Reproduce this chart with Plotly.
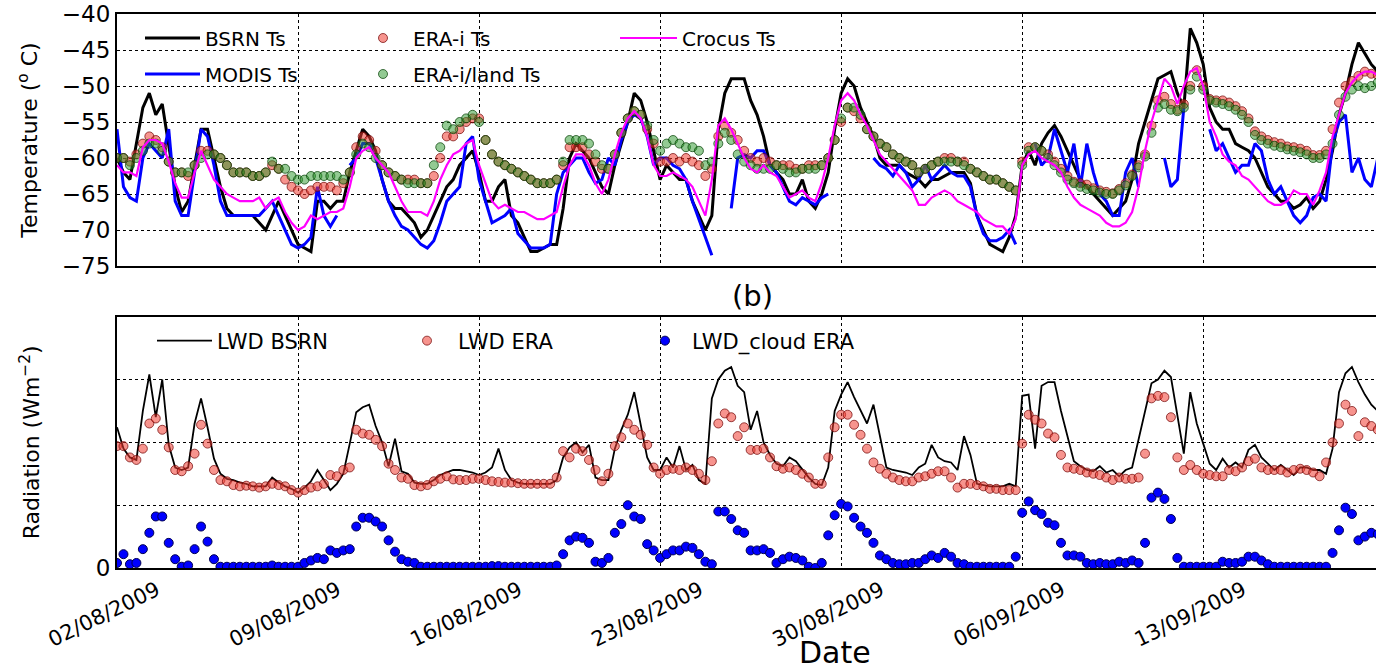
import pandas as pd
import plotly.graph_objects as go

# ---------------- data (6-hourly, starting 02/08/2009 00:00) ----------------
START = "2009-08-02 00:00"
N_STEPS = 196

BSRN_TS = [
    -60, -62, -63, -58,   -53, -51, -54, -52.5,   -58, -64, -67.5, -66,
    -61, -56, -56, -60,   -64, -67, -68, -68,     -68, -68, -69, -70,
    -68, -66, -68, -70,   -72, -72.5, -73, -66,   -66, -67, -66, -66,
    -62, -59, -56, -57,   -59, -63, -66, -67,     -67, -68, -69, -71,
    -70, -68, -66, -64,   -63, -61, -60, -59,     -62, -66, -66, -64,
    -63, -68, -69, -71,   -73, -73, -72.5, -72,   -72, -67, -60, -58,
    -59, -60, -62, -64,   -65, -61, -58, -55,     -51, -52, -55, -59,
    -63, -61, -62, -63,   -63, -66, -68, -70,     -68, -56, -51, -49,
    -49, -49, -52, -54,   -57, -61, -62, -63,     -65, -65, -63, -66,
    -67, -65, -62, -56,   -51, -49, -50, -53,     -55, -57, -60, -61,
    -61, -61, -62, -62.5, -63, -64, -63, -63,     -62.5, -62, -62, -62,
    -63.5, -68, -70, -72, -72.5, -73, -71, -68,   -61, -59, -61, -58,
    -56.5, -55.5, -57, -59, -61, -63, -64, -65,   -66, -67, -68, -67,
    -66, -63, -58, -55,   -52, -49, -48.5, -48,   -51, -53, -42, -44,
    -47, -53, -55, -56,   -56, -58, -58.5, -59,   -60, -62, -64, -65,
    -66, -66, -67, -66.5, -65.5, -67, -66, -63,   -59, -54, -51, -47,
    -44, -45.5, -47, -48,
]

MODIS_TS = [
    -56, -64, -65.5, -66, -60, -58, -59, -60,     -56, -66, -68, -68,
    -62, -56, -57, -61,   -66, -68, -68, -68,     -68, -68, -68, -67,
    -66, -68, -70, -72,   -72.5, -72, -71, -64,   -68, -69.5, -68, None,
    -61, -60, -58, -58,   -60, -63, -66, -68,     -69.5, -70, -71, -72,
    -72.5, -71.5, -69, -66, -65, -64, -58, -57,   -63, -66, -69, -68.5,
    -68, -67, -70.5, -71.5, -72.5, -72.5, -72.5, -72, -65, -62, -61, -60,
    -60, -62, -63.5, -63, -60, -61, -57.5, -55,   -54, -54.5, -57, -61,
    -60, -60, -61, -61.5, -63, -66, -68.5, -71,   -73.5, None, None, -67,
    -60, -59.5, -60, -59, -59, -61, -62, -64,     -66, -66.5, -65.5, -66,
    -66.5, -65.5, -65, None, None, None, None, None, None, -60, -61, -61.5,
    -62.5, -61, -62, -64, -63, -61, -63, -62,     -61, -62, -62.5, -62.5,
    -64, -68, -70.5, -71.5, -71.5, -71, -70, -72, None, None, -58, -61,
    -60, -56, -59, -62,   -58, -64, -58, -62,     -65, -66, -68, -68,
    -62, -60, -64, None,  None, None, -60, -64,   -63, -53, None, None,
    None, -56, -59, -58,  -60, -62, -61, -61,     -58, -59, -63, -65,
    -64, -66, -68, -69,   -68, -65.5, -65, -66,   -58, -55, -54, -62,
    -60, -63, -64, -60,
]

ERA_TS = [
    -60, -60, -60.5, -59.5, -58, -57, -57.5, -58.5, -60.5, -62, -62, -62.5,
    -61, -59, -59, -59.5, -60, -61, -62, -62,     -62, -62.5, -62.5, -62,
    -61, -61.5, -63, -64, -64.5, -65, -64.5, -64, -64, -64, -64.5, -63.5,
    -62, -58.5, -57, -57.5, -59, -61, -62, -62.5, -63, -63, -63, -63.5,
    -63.5, -62.5, -60, -57, -57, -56, -55, -54.5, -54.5, -57.5, -59.5, -60.5,
    -61, -61.5, -62, -62.5, -63, -63.5, -63.5, -63.5, -63, -61, -58.5, -58.5,
    -58.5, -59.5, -60.5, -61.5, -61.5, -59.5, -56.5, -54.5, -53.5, -54, -56, -58,
    -60.5, -60.5, -60, -60.5, -60, -60.5, -61, -62.5, -61.5, -57, -55.5, -56.5,
    -57.5, -59, -60, -60.5, -60, -60.5, -61, -61, -61, -61.5, -61.5, -61,
    -61, -61, -60, -57.5, -55, -53, -53.5, -54.5, -56, -57, -58, -58.5,
    -59.5, -60, -60.5, -61, -62, -61.5, -61, -60.5, -60, -60, -60.5, -60.5,
    -61.5, -62, -62.5, -63, -63, -63.5, -64, -64.5, -60.5, -58.5, -58.5, -59,
    -59.5, -60.5, -61.5, -62.5, -63.3, -63.5, -63.7, -64.2, -64.5, -64.7, -64.9, -64.3,
    -63.5, -62.3, -61, -59.5, -55.5, -52, -51.5, -52.5, -53.3, -52.5, -50, -47.8,
    -50, -51.8, -52, -52, -52.3, -52.8, -53.5, -54.5, -56.3, -57, -57.5, -57.8,
    -58, -58.4, -58.5, -58.7, -59, -59.6, -59.6, -59, -56, -52.3, -50, -49.3,
    -48.6, -48, -48.3, -48.5,
]

ERA_LAND_TS = [
    -60, -60, -61, -60,   -59, -58, -58, -59,     -60.5, -62, -62, -62,
    -61, -60, -59.5, -59.5, -60, -61, -62, -62,   -62, -62.5, -62.5, -62,
    -60.5, -61.5, -61.5, -62.5, -63, -63, -62.5, -62.5, -62.5, -62.5, -62.5, -63,
    -62, -59.5, -58, -58.5, -60, -61, -62, -62.5, -63, -63.5, -63.5, -63.5,
    -63.5, -61, -58.5, -55.5, -56, -55, -54.5, -54, -55, -57.5, -59.5, -60.5,
    -61, -61.5, -62, -62.5, -63, -63.5, -63.5, -63.5, -63, -60.5, -57.5, -57.5,
    -57.5, -58, -59.5, -61, -61.5, -59.5, -56.5, -54.5, -53.5, -54, -55.5, -57.5,
    -59, -58, -57.5, -58, -58.5, -58.5, -59, -61, -60.5, -58, -56.5, -57.5,
    -59.5, -60.5, -61, -61.5, -61.5, -61.5, -61, -61.5, -62, -62, -61.5, -61.5,
    -61.5, -61, -60, -57.5, -54.5, -53, -53, -54, -56, -57, -58, -58.5,
    -59.5, -60, -60.5, -61, -62, -61.5, -61, -60.5, -60.5, -60.5, -60.5, -61,
    -61.5, -62, -62.5, -63, -63, -63.5, -64, -64.5, -61, -59, -58.5, -59,
    -60, -61, -62, -63,   -63.5, -64, -64.3, -64.5, -64.8, -65, -65, -64.5,
    -63.8, -62.5, -61.3, -59.8, -56.5, -53, -52.5, -53.3, -53.5, -53, -50.5, -48.7,
    -50.5, -52, -52.3, -52.5, -52.8, -53.3, -54, -55, -56.8, -57.5, -58, -58.3,
    -58.5, -58.8, -59, -59.2, -59.5, -60, -60, -59.5, -58, -54, -51.5, -50.5,
    -50, -50.3, -50, -49.5,
]

CROCUS_TS = [
    -61, -62, -62, -62.5, -58.5, -57.5, -57.5, -58, -60.5, -63.5, -65.5, -65.5,
    -62, -59, -61, -63,   -64, -65, -65.5, -66,   -66, -66, -65.5, -67,
    -66, -65.5, -67.5, -69, -70, -69.5, -68, -68.5, -68, -67.5, -67.5, -67,
    -64, -60, -59, -58.5, -60, -61, -62, -64,     -66, -67.5, -67.5, -67.5,
    -68, -66, -63, -61,   -59.5, -59, -58, -57.5, -61, -63.5, -66, -67,
    -66.5, -67, -67.5, -67.5, -68, -68.5, -68.5, -68, -67.5, -64, -61, -59.5,
    -59.5, -61, -63.5, -65, -63, -59.5, -56.5, -54.5, -53.5, -54.5, -57, -61,
    -62.5, -62.5, -62, -62.5, -63, -64, -66, -68, -63, -55.5, -54.5, -56,
    -58, -60, -61.5, -62, -61, -62, -62.5, -64,   -65.5, -65, -64.5, -65.5,
    -66, -63.5, -60, -55.5, -52, -51, -52, -54,   -55.5, -57.5, -59.5, -60.5,
    -61.5, -62.5, -63.5, -64.5, -66.5, -66.5, -65.5, -65, -64.5, -65, -66, -66.5,
    -67, -67.5, -68.5, -69, -69.5, -69.5, -70.5, -68.5, -61, -59.5, -59, -60,
    -60.5, -61, -62, -64, -65.5, -66.5, -67, -67.5, -68, -69, -69.5, -69.5,
    -69, -67.5, -64, -59, -55, -52, -49, -50,     -52.5, -50, -48, -47.5,
    -50, -55, -57, -59.5, -60.5, -61, -62.5, -63, -64, -65, -66, -66.5,
    -66.5, -66, -64.5, -65, -65, -66.5, -64.5, -62, -57, -54, -51, -49.5,
    -48.5, -48, -48, -48.5,
]

LWD_BSRN = [
    112, 95, 88, 86,     125, 154, 120, 150,   98, 80, 78, 80,
    115, 135, 112, 87,   75, 71, 70, 68,       67, 65, 65, 65,
    72, 68, 65, 63,      60, 64, 69, 78,       70, 62, 67, 75,
    99, 124, 128, 130,   113, 100, 81, 103,    77, 75, 68, 67,
    67, 70, 74, 76,      78, 78, 77, 76,       74, 76, 80, 95,
    78, 70, 68, 67,      67, 67, 67, 67,       70, 88, 96, 100,
    92, 98, 72, 70,      70, 95, 110, 122,     140, 115, 88, 78,
    78, 88, 80, 97,      78, 82, 70, 67,       135, 150, 157, 160,
    145, 140, 110, 125,  100, 90, 83, 81,      88, 85, 78, 72,
    67, 66, 80, 125,     138, 148, 136, 125,   115, 130, 105, 80,
    78, 77, 76, 74,      80, 83, 98, 88,       85, 84, 78, 105,
    90, 67, 66, 65,      65, 65, 67, 65,       137, 138, 95, 145,
    148, 148, 125, 105,  85, 81, 78, 77,       81, 76, 78, 73,
    78, 80, 102, 125,    147, 150, 157, 152,   120, 91, 140, 115,
    99, 83, 78, 87,      80, 84, 80, 94,       98, 88, 83, 78,
    82, 78, 74, 80,      80, 78, 78, 75,       95, 140, 155, 160,
    148, 138, 130, 125,
]

LWD_ERA = [
    97, 97, 88, 86,      95, 115, 119, 110,    96, 78, 77, 81,
    91, 114, 99, 78,     70, 69, 66, 65,       65.5, 65, 64, 65,
    67, 66, 65, 62,      60, 62, 64, 65,       67, 74, 73, 78,
    80, 110, 107, 106,   102, 97, 83, 78,      72, 71, 66, 65,
    66, 69, 71, 73,      70.5, 70, 70, 71,     71, 70, 69, 68.5,
    68, 68, 67.5, 67,    67, 67, 67, 67,       72, 93, 88, 95,
    93, 86, 78, 69,      75, 97, 104, 115,     110, 106, 98, 80,
    75, 78, 79, 78,      80, 78, 75, 70,       85, 115, 123, 120,
    105, 112, 94, 94,    95, 88, 81, 79,       80, 78, 75, 72,
    67, 67, 88, 112,     122, 122, 114, 106,   95, 84, 79, 75,
    72, 70, 69, 69,      72, 73, 75, 77,       77, 72, 64, 67,
    67, 66, 65, 63,      63, 62, 62, 62,       99, 122, 118, 115,
    107, 104, 90, 80,    79, 78, 76, 75,       74, 72, 70, 72,
    71, 71, 72, 91,      135, 137, 136, 120,   88, 78, 82, 78,
    75, 74, 73, 73,      78, 77, 80, 85,       87, 80, 78, 78,
    78, 76, 78, 79,      78, 76, 73, 84,       100, 115, 130, 125,
    105, 116, 113, 110,
]

LWD_CLOUD_ERA = [
    4, 11, 3, 4,         15, 28, 41, 41,       20, 7, 1, 2,
    15, 33, 21, 7,       1, 1, 1, 1,           1, 1, 1, 1,
    2, 1, 1, 1,          1, 4, 6, 8,           7, 14, 12, 14,
    15, 33, 40, 40,      37, 33, 22, 13,       7, 5, 4, 1,
    1, 1, 1, 1,          1, 1, 1, 1,           1, 1, 1.5, 1.5,
    1, 1, 1, 1,          1, 1, 1, 1,           2, 11, 22, 25,
    24, 20, 5, 4,        8, 28, 35, 50,        41, 39, 19, 14,
    8, 11, 14, 14,       17, 16, 11, 5,        3, 45, 45, 39,
    30, 28, 14, 14,      15, 12, 4, 7,         9, 8, 6, 1,
    0, 4, 26, 42,        51, 49, 40, 33,       28, 20, 10, 7,
    4, 3, 3, 4,          4, 7, 10, 8,          12, 9, 4, 3,
    1, 1, 1, 1,          1, 1, 1, 9,           44, 53, 46, 43,
    36, 34, 20, 10,      10, 9, 4, 3,          4, 3, 3, 5,
    4, 6, 4, 20,         56, 60, 55, 39,       8, 1, 1, 1,
    1, 1, 1, 5,          4, 4, 5, 9,           9, 6, 3, 1,
    1, 1, 1, 1,          1, 1, 1, 1,           12, 30, 48, 43,
    22, 25, 28, 27,
]

TEMP_TICKS = [-75, -70, -65, -60, -55, -50, -45, -40]
RAD_TICKS = [0]
RAD_GRID_STEP = 50
X_RANGE = ["2009-08-02 00:00", "2009-09-19 16:20"]
TICK0 = "2009-08-02"

times = pd.date_range(START, periods=N_STEPS, freq="6h")

# ---------------- layout helpers ----------------
W, H = 1376, 671
ML, MR, MT, MB = 117, 0, 14, 103
PW, PH = W - ML - MR, H - MT - MB
FONT = "DejaVu Sans"


def px_x(px):
    return (px - ML) / PW


def px_y(py):
    return (H - MB - py) / PH


ERA_MARKER = dict(size=9, color="rgba(240,60,50,0.55)",
                  line=dict(color="rgba(110,0,0,0.7)", width=1))
LAND_MARKER = dict(size=9, color="rgba(40,150,40,0.5)",
                   line=dict(color="rgba(0,60,0,0.7)", width=1))

fig = go.Figure()

# ---- top panel ----
fig.add_trace(go.Scatter(x=times, y=BSRN_TS, mode="lines", name="BSRN Ts",
                         line=dict(color="black", width=3), legend="legend",
                         showlegend=True, xaxis="x", yaxis="y"))
fig.add_trace(go.Scatter(x=times, y=MODIS_TS, mode="lines", name="MODIS Ts",
                         line=dict(color="#0000ff", width=3), legend="legend2",
                         showlegend=True, xaxis="x", yaxis="y"))
fig.add_trace(go.Scatter(x=times, y=ERA_TS, mode="markers", name="ERA-i Ts",
                         marker=ERA_MARKER, legend="legend3", showlegend=True,
                         xaxis="x", yaxis="y"))
fig.add_trace(go.Scatter(x=times, y=ERA_LAND_TS, mode="markers", name="ERA-i/land Ts",
                         marker=LAND_MARKER, legend="legend4", showlegend=True,
                         xaxis="x", yaxis="y"))
fig.add_trace(go.Scatter(x=times, y=CROCUS_TS, mode="lines", name="Crocus Ts",
                         line=dict(color="#ff00ff", width=2.2), legend="legend5",
                         showlegend=True, xaxis="x", yaxis="y"))

# ---- bottom panel ----
fig.add_trace(go.Scatter(x=times, y=LWD_BSRN, mode="lines", name="LWD BSRN",
                         line=dict(color="black", width=1.8), legend="legend6",
                         showlegend=True, xaxis="x2", yaxis="y2"))
fig.add_trace(go.Scatter(x=times, y=LWD_ERA, mode="markers", name="LWD ERA",
                         marker=ERA_MARKER, legend="legend7", showlegend=True,
                         xaxis="x2", yaxis="y2"))
fig.add_trace(go.Scatter(x=times, y=LWD_CLOUD_ERA, mode="markers", name="LWD_cloud ERA",
                         marker=dict(size=9, color="#0000ff",
                                     line=dict(color="#000050", width=1)),
                         legend="legend8", showlegend=True, xaxis="x2", yaxis="y2"))

grid = dict(showgrid=True, gridcolor="black", griddash="dot", gridwidth=1.3,
            zeroline=False, showline=True, linecolor="black", linewidth=2, ticks="")

xcommon = dict(type="date", range=X_RANGE, tick0=TICK0, dtick=7 * 86400000, **grid)

top_dom = [px_y(266), 1.0]
bot_dom = [0.0, px_y(316.7)]


def leg(px_left, py_mid, size, itemwidth):
    return dict(x=px_x(px_left), y=px_y(py_mid), xanchor="left", yanchor="middle",
                bgcolor="rgba(0,0,0,0)", borderwidth=0, itemwidth=itemwidth,
                font=dict(family=FONT, size=size, color="black"))


fig.update_layout(
    width=W, height=H,
    margin=dict(l=ML, r=MR, t=MT, b=MB),
    paper_bgcolor="white", plot_bgcolor="white",
    font=dict(family=FONT, color="black"),
    showlegend=True,
    xaxis=dict(domain=[0, 1], anchor="y", showticklabels=False, mirror=True, **xcommon),
    yaxis=dict(domain=top_dom, anchor="x", range=[-75, -40], tickvals=TEMP_TICKS,
               tickfont=dict(size=23), mirror=False,
               title=dict(text="Temperature (<sup>o</sup> C)", font=dict(size=22),
                          standoff=18),
               **grid),
    xaxis2=dict(domain=[0, 1], anchor="y2", tickformat="%d/%m/%Y", tickangle=-26,
                tickfont=dict(size=21), mirror=True, ticklabelshift=40,
                **xcommon),
    yaxis2=dict(domain=bot_dom, anchor="x2", range=[0, 200], tickvals=RAD_TICKS,
                tickfont=dict(size=23), mirror=False,
                minor=dict(tickmode="linear", tick0=0, dtick=RAD_GRID_STEP, showgrid=True,
                           gridcolor="black", griddash="dot", gridwidth=1.3, ticks=""),
                title=dict(text="Radiation (Wm<sup>−2</sup>)", font=dict(size=22),
                           standoff=50),
                **grid),
    legend=leg(140, 38, 20, 55),
    legend2=leg(140, 74, 20, 55),
    legend3=leg(353, 38, 20, 50),
    legend4=leg(353, 74, 20, 50),
    legend5=leg(615, 38, 20, 57),
    legend6=leg(152, 341, 21, 55),
    legend7=leg(396, 341, 21, 52),
    legend8=leg(638, 341, 21, 44),
    annotations=[
        dict(text="(b)", x=px_x(752), y=px_y(296), xref="paper", yref="paper",
             showarrow=False, font=dict(size=29), xanchor="center", yanchor="middle"),
        dict(text="Date", x=px_x(835), y=px_y(652), xref="paper", yref="paper",
             showarrow=False, font=dict(size=30), xanchor="center", yanchor="middle"),
    ],
)

fig.write_html("out.html")
